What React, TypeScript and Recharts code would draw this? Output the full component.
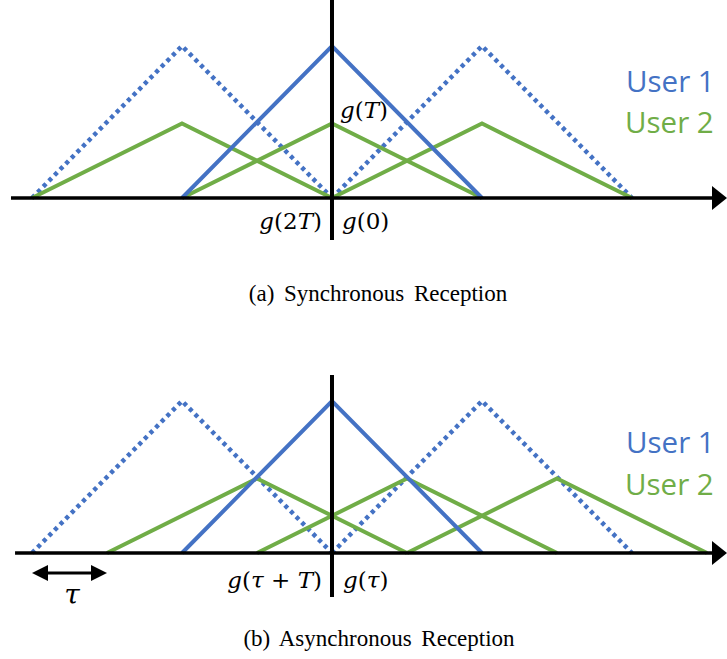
import React from 'react';
import { LineChart, Line, XAxis, YAxis, ReferenceLine } from 'recharts';

const BLUE = '#4472C4';
const GREEN = '#70AD47';

// pulse shapes: t in units of T, g normalised to user-1 peak
const user1Main = [{ t: -1, g: 0 }, { t: 0, g: 1 }, { t: 1, g: 0 }];
const user1PrevDotted = [{ t: -2, g: 0 }, { t: -1, g: 1 }, { t: 0, g: 0 }];
const user1NextDotted = [{ t: 0, g: 0 }, { t: 1, g: 1 }, { t: 2, g: 0 }];

// (a) synchronous: user 2 pulses aligned with user 1
const user2SyncPrev = [{ t: -2, g: 0 }, { t: -1, g: 0.49 }, { t: 0, g: 0 }];
const user2SyncMain = [{ t: -1, g: 0 }, { t: 0, g: 0.49 }, { t: 1, g: 0 }];
const user2SyncNext = [{ t: 0, g: 0 }, { t: 1, g: 0.49 }, { t: 2, g: 0 }];

// (b) asynchronous: user 2 pulses shifted by tau = 0.5T
const user2AsyncPrev = [{ t: -1.5, g: 0 }, { t: -0.5, g: 0.49 }, { t: 0.5, g: 0 }];
const user2AsyncMain = [{ t: -0.5, g: 0 }, { t: 0.5, g: 0.49 }, { t: 1.5, g: 0 }];
const user2AsyncNext = [{ t: 0.5, g: 0 }, { t: 1.5, g: 0.49 }, { t: 2.5, g: 0 }];

const tauSpan = [-2, -1.5];

const X_DOMAIN: [number, number] = [-2.2133, 2.6333];
const Y_DOMAIN: [number, number] = [-0.3421, 1.3026];

const ArrowAxis = (props: any) => {
  const { x1, y1, x2, y2 } = props;
  return (
    <g>
      <line x1={x1} y1={y1} x2={x2 - 12} y2={y2} stroke="#000" strokeWidth={3.5} />
      <polygon points={`${x2},${y2} ${x2 - 15},${y2 - 12} ${x2 - 15},${y2 + 12}`} fill="#000" />
    </g>
  );
};

const DoubleArrow = (props: any) => {
  const { x1, y1, x2, y2 } = props;
  return (
    <g>
      <line x1={x1 + 10} y1={y1} x2={x2 - 10} y2={y2} stroke="#000" strokeWidth={3} />
      <polygon points={`${x1},${y1} ${x1 + 16},${y1 - 8} ${x1 + 16},${y1 + 8}`} fill="#000" />
      <polygon points={`${x2},${y2} ${x2 - 16},${y2 - 8} ${x2 - 16},${y2 + 8}`} fill="#000" />
    </g>
  );
};

type PanelProps = {
  top: number;
  greens: { t: number; g: number }[][];
  vTop: number;
  vBottom: number;
  hStart: number;
  showTau?: boolean;
};

const Panel = ({ top, greens, vTop, vBottom, hStart, showTau }: PanelProps) => (
  <div style={{ position: 'absolute', left: 0, top, width: 727, height: 250 }}>
    <LineChart width={727} height={250} margin={{ top: 0, right: 0, bottom: 0, left: 0 }}>
      <XAxis type="number" dataKey="t" domain={X_DOMAIN} allowDataOverflow hide />
      <YAxis type="number" domain={Y_DOMAIN} allowDataOverflow hide />
      <Line data={user1PrevDotted} dataKey="g" stroke={BLUE} strokeWidth={4.5} strokeDasharray="4 4" dot={false} activeDot={false} isAnimationActive={false} />
      <Line data={user1NextDotted} dataKey="g" stroke={BLUE} strokeWidth={4.5} strokeDasharray="4 4" dot={false} activeDot={false} isAnimationActive={false} />
      {greens.map((d, i) => (
        <Line key={i} data={d} dataKey="g" stroke={GREEN} strokeWidth={4} dot={false} activeDot={false} isAnimationActive={false} />
      ))}
      <Line data={user1Main} dataKey="g" stroke={BLUE} strokeWidth={4} dot={false} activeDot={false} isAnimationActive={false} />
      <ReferenceLine segment={[{ x: hStart, y: 0 }, { x: X_DOMAIN[1], y: 0 }]} ifOverflow="visible" shape={ArrowAxis} />
      <ReferenceLine segment={[{ x: 0, y: vTop }, { x: 0, y: vBottom }]} stroke="#000" strokeWidth={4} ifOverflow="visible" />
      {showTau && (
        <ReferenceLine segment={[{ x: tauSpan[0], y: -0.1316 }, { x: tauSpan[1], y: -0.1316 }]} ifOverflow="visible" shape={DoubleArrow} />
      )}
    </LineChart>
  </div>
);

const mathFont = { fontFamily: '"DejaVu Serif", serif', fontSize: 23 };
const userFont = { fontFamily: '"Open Sans", sans-serif', fontSize: 29.5 };
const capFont = { fontFamily: '"Times New Roman", "Liberation Serif", Times, serif', fontSize: 23, wordSpacing: 4 };

export default function App() {
  return (
    <div style={{ position: 'absolute', left: 0, top: 0, width: 727, height: 659, background: '#fff' }}>
      <Panel top={0} greens={[user2SyncPrev, user2SyncMain, user2SyncNext]} vTop={1.3026} vBottom={-0.276} hStart={-2.14} />
      <Panel top={355} greens={[user2AsyncPrev, user2AsyncMain, user2AsyncNext]} vTop={1.171} vBottom={-0.289} hStart={-2.113} showTau />
      <svg width={727} height={659} style={{ position: 'absolute', left: 0, top: 0, pointerEvents: 'none' }}>
        {/* panel (a) */}
        <text x={340} y={118} style={mathFont}>
          <tspan fontStyle="italic">g</tspan>(<tspan fontStyle="italic">T</tspan>)
        </text>
        <text x={322} y={229} textAnchor="end" style={mathFont}>
          <tspan fontStyle="italic">g</tspan>(2<tspan fontStyle="italic">T</tspan>)
        </text>
        <text x={342} y={229} style={mathFont}>
          <tspan fontStyle="italic">g</tspan>(0)
        </text>
        <text x={626} y={92} fill={BLUE} style={userFont}>User 1</text>
        <text x={625} y={133} fill={GREEN} style={userFont}>User 2</text>
        <text x={378} y={301} textAnchor="middle" style={capFont}>(a) Synchronous Reception</text>
        {/* panel (b) */}
        <text x={322} y={588} textAnchor="end" style={mathFont}>
          <tspan fontStyle="italic">g</tspan>(<tspan fontStyle="italic">τ</tspan> + <tspan fontStyle="italic">T</tspan>)
        </text>
        <text x={343} y={588} style={mathFont}>
          <tspan fontStyle="italic">g</tspan>(<tspan fontStyle="italic">τ</tspan>)
        </text>
        <text x={72} y={604} textAnchor="middle" style={{ ...mathFont, fontSize: 28 }} fontStyle="italic">τ</text>
        <text x={626} y={453} fill={BLUE} style={userFont}>User 1</text>
        <text x={625} y={495} fill={GREEN} style={userFont}>User 2</text>
        <text x={379} y={646} textAnchor="middle" style={capFont}>(b) Asynchronous Reception</text>
      </svg>
    </div>
  );
}
